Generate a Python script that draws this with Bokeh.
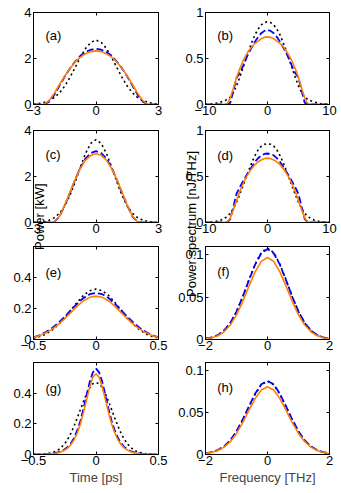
from math import pi
from bokeh.plotting import figure
from bokeh.models import Range1d, FixedTicker, LinearAxis, Label, GridBox
from bokeh.embed import file_html
from bokeh.resources import INLINE

FONT = "Liberation Sans"
FS = "13px"

# ---------------- data ----------------
# time axis, panels (a) and (c)  [ps]
T_AC = [-3.0, -2.75, -2.5, -2.25, -2.0, -1.75, -1.5, -1.25, -1.0, -0.75, -0.5, -0.25, 0.0,
        0.25, 0.5, 0.75, 1.0, 1.25, 1.5, 1.75, 2.0, 2.25, 2.5, 2.75, 3.0]
A_DOT = [0.02, 0.04, 0.09, 0.17, 0.30, 0.51, 0.80, 1.18, 1.61, 2.05, 2.44, 2.70, 2.80,
         2.70, 2.44, 2.05, 1.61, 1.18, 0.80, 0.51, 0.30, 0.17, 0.09, 0.04, 0.02]
A_DASH = [0.0, 0.0, 0.0, 0.12, 0.42, 0.82, 1.22, 1.57, 1.87, 2.12, 2.28, 2.38, 2.42,
          2.38, 2.28, 2.12, 1.87, 1.57, 1.22, 0.82, 0.42, 0.12, 0.0, 0.0, 0.0]
A_SOLID = [0.0, 0.0, 0.01, 0.17, 0.49, 0.87, 1.24, 1.57, 1.85, 2.06, 2.21, 2.30, 2.33,
           2.30, 2.21, 2.06, 1.85, 1.57, 1.24, 0.87, 0.49, 0.17, 0.01, 0.0, 0.0]
C_DOT = [0.005, 0.015, 0.04, 0.10, 0.21, 0.40, 0.72, 1.18, 1.76, 2.41, 3.01, 3.44, 3.60,
         3.44, 3.01, 2.41, 1.76, 1.18, 0.72, 0.40, 0.21, 0.10, 0.04, 0.015, 0.005]
C_DASH = [0.0, 0.0, 0.0, 0.0, 0.03, 0.26, 0.74, 1.28, 1.86, 2.38, 2.78, 3.02, 3.10,
          3.02, 2.78, 2.38, 1.86, 1.28, 0.74, 0.26, 0.03, 0.0, 0.0, 0.0, 0.0]
C_SOLID = [0.0, 0.0, 0.0, 0.0, 0.03, 0.27, 0.76, 1.32, 1.87, 2.35, 2.71, 2.92, 2.99,
           2.92, 2.71, 2.35, 1.87, 1.32, 0.76, 0.27, 0.03, 0.0, 0.0, 0.0, 0.0]

# frequency axis, panels (b) and (d)  [THz]
F_BD = [-10.0, -9.5, -9.0, -8.5, -8.0, -7.5, -7.0, -6.5, -6.0, -5.5, -5.0, -4.5, -4.0, -3.5,
        -3.0, -2.5, -2.0, -1.5, -1.0, -0.5, 0.0, 0.5, 1.0, 1.5, 2.0, 2.5, 3.0, 3.5, 4.0,
        4.5, 5.0, 5.5, 6.0, 6.5, 7.0, 7.5, 8.0, 8.5, 9.0, 9.5, 10.0]
B_DOT = [0.002, 0.004, 0.007, 0.011, 0.018, 0.028, 0.04, 0.055, 0.08, 0.13, 0.20, 0.29,
         0.39, 0.49, 0.59, 0.68, 0.76, 0.82, 0.865, 0.89, 0.90, 0.89, 0.865, 0.82, 0.76,
         0.68, 0.59, 0.49, 0.39, 0.29, 0.20, 0.13, 0.08, 0.055, 0.04, 0.028, 0.018, 0.011,
         0.007, 0.004, 0.002]
B_DASH = [0.0, 0.0, 0.0, 0.0, 0.0, 0.0, 0.0, 0.0, 0.02, 0.15, 0.29, 0.34, 0.41, 0.49,
          0.565, 0.625, 0.685, 0.735, 0.775, 0.80, 0.81, 0.80, 0.775, 0.735, 0.685, 0.625,
          0.565, 0.49, 0.41, 0.34, 0.29, 0.15, 0.02, 0.0, 0.0, 0.0, 0.0, 0.0, 0.0, 0.0, 0.0]
B_SOLID = [0.0, 0.0, 0.0, 0.0, 0.0, 0.0, 0.0, 0.01, 0.07, 0.18, 0.29, 0.385, 0.465, 0.53,
           0.585, 0.63, 0.665, 0.69, 0.715, 0.73, 0.735, 0.73, 0.715, 0.69, 0.665, 0.63,
           0.585, 0.53, 0.465, 0.385, 0.29, 0.18, 0.07, 0.01, 0.0, 0.0, 0.0, 0.0, 0.0, 0.0, 0.0]
D_DOT = [0.002, 0.004, 0.006, 0.01, 0.017, 0.027, 0.042, 0.065, 0.10, 0.15, 0.22, 0.30,
         0.39, 0.48, 0.57, 0.655, 0.73, 0.79, 0.83, 0.85, 0.857, 0.85, 0.83, 0.79, 0.73,
         0.655, 0.57, 0.48, 0.39, 0.30, 0.22, 0.15, 0.10, 0.065, 0.042, 0.027, 0.017, 0.01,
         0.006, 0.004, 0.002]
D_DASH = [0.0, 0.0, 0.0, 0.0, 0.0, 0.0, 0.0, 0.0, 0.04, 0.17, 0.31, 0.38, 0.44, 0.50,
          0.555, 0.61, 0.66, 0.70, 0.73, 0.745, 0.75, 0.745, 0.73, 0.70, 0.66, 0.61, 0.555,
          0.50, 0.44, 0.38, 0.31, 0.17, 0.04, 0.0, 0.0, 0.0, 0.0, 0.0, 0.0, 0.0, 0.0]
D_SOLID = [0.0, 0.0, 0.0, 0.0, 0.0, 0.0, 0.0, 0.005, 0.05, 0.14, 0.24, 0.33, 0.41, 0.485,
           0.54, 0.59, 0.63, 0.66, 0.68, 0.695, 0.70, 0.695, 0.68, 0.66, 0.63, 0.59, 0.54,
           0.485, 0.41, 0.33, 0.24, 0.14, 0.05, 0.005, 0.0, 0.0, 0.0, 0.0, 0.0, 0.0, 0.0]

# time axis, panel (e)  [ps]
T_E = [-0.5, -0.45, -0.4, -0.35, -0.3, -0.25, -0.2, -0.15, -0.1, -0.05, 0.0,
       0.05, 0.1, 0.15, 0.2, 0.25, 0.3, 0.35, 0.4, 0.45, 0.5]
E_DOT = [0.009, 0.019, 0.036, 0.062, 0.097, 0.14, 0.19, 0.24, 0.285, 0.315, 0.325,
         0.315, 0.285, 0.24, 0.19, 0.14, 0.097, 0.062, 0.036, 0.019, 0.009]
E_DASH = [0.014, 0.028, 0.048, 0.075, 0.108, 0.147, 0.19, 0.232, 0.268, 0.292, 0.30,
          0.292, 0.268, 0.232, 0.19, 0.147, 0.108, 0.075, 0.048, 0.028, 0.014]
E_SOLID = [0.013, 0.025, 0.043, 0.067, 0.098, 0.135, 0.175, 0.215, 0.25, 0.272, 0.28,
           0.272, 0.25, 0.215, 0.175, 0.135, 0.098, 0.067, 0.043, 0.025, 0.013]

# time axis, panel (g)  [ps]
T_G = [-0.5, -0.475, -0.45, -0.425, -0.4, -0.375, -0.35, -0.325, -0.3, -0.275, -0.25,
       -0.225, -0.2, -0.175, -0.15, -0.125, -0.1, -0.075, -0.05, -0.025, 0.0, 0.025, 0.05,
       0.075, 0.1, 0.125, 0.15, 0.175, 0.2, 0.225, 0.25, 0.275, 0.3, 0.325, 0.35, 0.375,
       0.4, 0.425, 0.45, 0.475, 0.5]
G_DOT = [0.0009, 0.0014, 0.0022, 0.0035, 0.0055, 0.0085, 0.013, 0.020, 0.031, 0.048, 0.071,
         0.101, 0.140, 0.186, 0.238, 0.293, 0.347, 0.396, 0.436, 0.461, 0.47, 0.461, 0.436,
         0.396, 0.347, 0.293, 0.238, 0.186, 0.140, 0.101, 0.071, 0.048, 0.031, 0.020, 0.013,
         0.0085, 0.0055, 0.0035, 0.0022, 0.0014, 0.0009]
G_DASH = [0.0005, 0.0008, 0.0012, 0.0019, 0.0028, 0.0043, 0.0065, 0.010, 0.015, 0.0225,
          0.034, 0.050, 0.074, 0.109, 0.157, 0.219, 0.299, 0.388, 0.473, 0.536, 0.56, 0.536,
          0.473, 0.388, 0.299, 0.219, 0.157, 0.109, 0.074, 0.050, 0.034, 0.0225, 0.015,
          0.010, 0.0065, 0.0043, 0.0028, 0.0019, 0.0012, 0.0008, 0.0005]
G_SOLID = [0.0004, 0.0006, 0.001, 0.0015, 0.0023, 0.0035, 0.005, 0.008, 0.012, 0.019,
           0.029, 0.043, 0.065, 0.096, 0.140, 0.199, 0.274, 0.358, 0.441, 0.504, 0.527,
           0.504, 0.441, 0.358, 0.274, 0.199, 0.140, 0.096, 0.065, 0.043, 0.029, 0.019,
           0.012, 0.008, 0.005, 0.0035, 0.0023, 0.0015, 0.001, 0.0006, 0.0004]

# frequency axis, panels (f) and (h)  [THz]
F_FH = [-2.0, -1.8, -1.6, -1.4, -1.2, -1.0, -0.8, -0.6, -0.4, -0.2, 0.0,
        0.2, 0.4, 0.6, 0.8, 1.0, 1.2, 1.4, 1.6, 1.8, 2.0]
F_DOT = [0.001, 0.0023, 0.0052, 0.0105, 0.0195, 0.033, 0.0505, 0.0705, 0.089, 0.103, 0.108,
         0.103, 0.089, 0.0705, 0.0505, 0.033, 0.0195, 0.0105, 0.0052, 0.0023, 0.001]
F_DASH = [0.001, 0.0024, 0.0053, 0.0107, 0.0197, 0.033, 0.0504, 0.070, 0.0886, 0.102, 0.107,
          0.102, 0.0886, 0.070, 0.0504, 0.033, 0.0197, 0.0107, 0.0053, 0.0024, 0.001]
F_SOLID = [0.0008, 0.002, 0.0044, 0.0091, 0.0171, 0.0291, 0.0449, 0.0629, 0.080, 0.0924, 0.097,
           0.0924, 0.080, 0.0629, 0.0449, 0.0291, 0.0171, 0.0091, 0.0044, 0.002, 0.0008]
H_DOT = [0.0013, 0.0026, 0.005, 0.0093, 0.0163, 0.027, 0.041, 0.0567, 0.072, 0.0834, 0.0875,
         0.0834, 0.072, 0.0567, 0.041, 0.027, 0.0163, 0.0093, 0.005, 0.0026, 0.0013]
H_DASH = [0.0014, 0.0028, 0.0054, 0.0098, 0.0170, 0.0278, 0.0418, 0.0575, 0.0727, 0.0839, 0.088,
          0.0839, 0.0727, 0.0575, 0.0418, 0.0278, 0.0170, 0.0098, 0.0054, 0.0028, 0.0014]
H_SOLID = [0.0012, 0.0025, 0.0048, 0.0088, 0.0153, 0.0252, 0.0382, 0.0527, 0.0668, 0.0772, 0.081,
           0.0772, 0.0668, 0.0527, 0.0382, 0.0252, 0.0153, 0.0088, 0.0048, 0.0025, 0.0012]

# tick values and labels
TICKS_T_WIDE = [-3, 0, 3]
LABELS_T_WIDE = ["\u22123", "0", "3"]
TICKS_P_WIDE = [0, 2, 4]
LABELS_P_WIDE = ["0", "2", "4"]
TICKS_F_WIDE = [-10, 0, 10]
LABELS_F_WIDE = ["\u221210", "0", "10"]
TICKS_S_WIDE = [0, 0.5, 1]
LABELS_S_WIDE = ["0", "0.5", "1"]
TICKS_T_NARROW = [-0.5, 0, 0.5]
LABELS_T_NARROW = ["\u22120.5", "0", "0.5"]
TICKS_P_NARROW = [0, 0.2, 0.4]
LABELS_P_NARROW = ["0", "0.2", "0.4"]
TICKS_F_NARROW = [-2, 0, 2]
LABELS_F_NARROW = ["\u22122", "0", "2"]
TICKS_S_NARROW = [0, 0.05, 0.1]
LABELS_S_NARROW = ["0", "0.05", "0.1"]

ORANGE = "#FF8000"
BLUE = "#0000FF"


def style_axis(ax, ticks, labels, show):
    ax.ticker = FixedTicker(ticks=ticks)
    ax.axis_line_color = "black"
    ax.major_tick_line_color = "black"
    ax.major_tick_in = 3
    ax.major_tick_out = 0
    ax.minor_tick_line_color = None
    if show:
        ax.major_label_overrides = dict(zip(ticks, labels))
        ax.major_label_text_font = FONT
        ax.major_label_text_font_size = FS
        ax.major_label_text_color = "black"
        ax.major_label_standoff = 2
    else:
        ax.major_label_overrides = {t: "" for t in ticks}
        ax.major_label_text_font_size = "0px"
        ax.major_label_standoff = 0


def panel(x, ydot, ydash, ysolid, xr, yr, xt, xl, yt, yl, tag, tag_y, left,
          top, frame_h, bottom, xlabel=None):
    if left:
        w, bl, br = 170, 33, 12
    else:
        w, bl, br = 169, 35, 10
    p = figure(width=w, height=top + frame_h + bottom,
               x_range=Range1d(*xr), y_range=Range1d(*yr),
               output_backend="svg", toolbar_location=None,
               x_axis_type=None, y_axis_type=None,
               min_border_left=bl, min_border_right=br,
               min_border_top=top, min_border_bottom=bottom)
    p.outline_line_color = "black"
    p.background_fill_color = "white"
    p.border_fill_color = "white"
    bx = LinearAxis()
    style_axis(bx, xt, xl, True)
    bx.major_label_standoff = 1
    if xlabel:
        bx.axis_label = xlabel
        bx.axis_label_text_font = FONT
        bx.axis_label_text_font_size = FS
        bx.axis_label_text_font_style = "normal"
        bx.axis_label_standoff = 2
    p.add_layout(bx, "below")
    ly = LinearAxis()
    style_axis(ly, yt, yl, True)
    p.add_layout(ly, "left")
    tx = LinearAxis()
    style_axis(tx, xt, xl, False)
    p.add_layout(tx, "above")
    ry = LinearAxis()
    style_axis(ry, yt, yl, False)
    p.add_layout(ry, "right")

    p.line(x, ydot, line_color="black", line_width=1.6, line_dash="2 3")
    p.line(x, ydash, line_color=BLUE, line_width=1.8, line_dash="7 3")
    p.line(x, ysolid, line_color=ORANGE, line_width=1.6)

    p.add_layout(Label(x=xr[0] + 0.095 * (xr[1] - xr[0]), y=tag_y, text=tag,
                       text_font=FONT, text_font_size=FS, text_color="black",
                       text_baseline="middle", text_align="left"))
    return p


pa = panel(T_AC, A_DOT, A_DASH, A_SOLID, (-3, 3), (0, 4), TICKS_T_WIDE, LABELS_T_WIDE,
           TICKS_P_WIDE, LABELS_P_WIDE, "(a)", 3.0, True, 12, 92, 18)
pb = panel(F_BD, B_DOT, B_DASH, B_SOLID, (-10, 10), (0, 1), TICKS_F_WIDE, LABELS_F_WIDE,
           TICKS_S_WIDE, LABELS_S_WIDE, "(b)", 0.75, False, 12, 92, 18)
pc = panel(T_AC, C_DOT, C_DASH, C_SOLID, (-3, 3), (0, 4), TICKS_T_WIDE, LABELS_T_WIDE,
           TICKS_P_WIDE, LABELS_P_WIDE, "(c)", 2.95, True, 8, 92, 18)
pd = panel(F_BD, D_DOT, D_DASH, D_SOLID, (-10, 10), (0, 1), TICKS_F_WIDE, LABELS_F_WIDE,
           TICKS_S_WIDE, LABELS_S_WIDE, "(d)", 0.73, False, 8, 92, 18)
pe = panel(T_E, E_DOT, E_DASH, E_SOLID, (-0.5, 0.5), (0, 0.6), TICKS_T_NARROW, LABELS_T_NARROW,
           TICKS_P_NARROW, LABELS_P_NARROW, "(e)", 0.43, True, 6, 93, 18)
pf = panel(F_FH, F_DOT, F_DASH, F_SOLID, (-2, 2), (0, 0.11), TICKS_F_NARROW, LABELS_F_NARROW,
           TICKS_S_NARROW, LABELS_S_NARROW, "(f)", 0.081, False, 6, 93, 18)
pg = panel(T_G, G_DOT, G_DASH, G_SOLID, (-0.5, 0.5), (0, 0.6), TICKS_T_NARROW, LABELS_T_NARROW,
           TICKS_P_NARROW, LABELS_P_NARROW, "(g)", 0.43, True, 5, 92, 33, xlabel="Time [ps]")
ph = panel(F_FH, H_DOT, H_DASH, H_SOLID, (-2, 2), (0, 0.11), TICKS_F_NARROW, LABELS_F_NARROW,
           TICKS_S_NARROW, LABELS_S_NARROW, "(h)", 0.08, False, 5, 92, 33, xlabel="Frequency [THz]")

# transparent overlay carrying the two shared y-axis titles
OV_W, OV_H = 339, 487
ov = figure(width=OV_W, height=OV_H, x_range=Range1d(0, OV_W), y_range=Range1d(OV_H, 0),
            output_backend="svg", toolbar_location=None, x_axis_type=None, y_axis_type=None,
            min_border=0)
ov.border_fill_color = None
ov.background_fill_color = None
ov.outline_line_color = None
ov.add_layout(Label(x=7, y=225, text="Power [kW]", angle=pi / 2, text_font=FONT,
                    text_font_size=FS, text_color="black", text_align="center",
                    text_baseline="middle"))
ov.add_layout(Label(x=181, y=233, text="Power spectrum [nJ/THz]", angle=pi / 2,
                    text_font=FONT, text_font_size=FS, text_color="black",
                    text_align="center", text_baseline="middle"))

grid = GridBox(children=[(pa, 0, 0), (pb, 0, 1), (pc, 1, 0), (pd, 1, 1),
                         (pe, 2, 0), (pf, 2, 1), (pg, 3, 0), (ph, 3, 1),
                         (ov, 0, 0, 4, 2)], spacing=0)

open("out.html", "w").write(file_html(grid, INLINE))
